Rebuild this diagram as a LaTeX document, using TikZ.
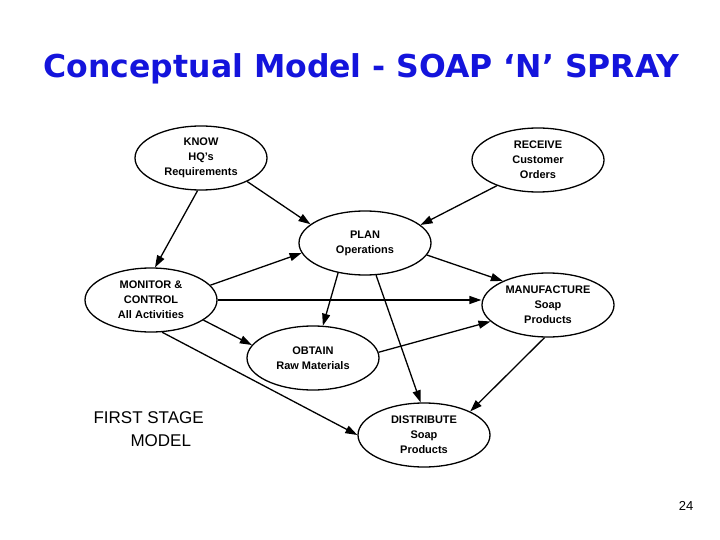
\documentclass[tikz,border=0pt]{standalone}
\usepackage{fontspec}
\setmainfont{Liberation Sans}
\newfontfamily\titlefont{DejaVu Sans}
\usetikzlibrary{shapes.geometric,arrows.meta}

\definecolor{titleblue}{RGB}{20,20,220}

\begin{document}
\begin{tikzpicture}[x=1pt, y=-1pt,
    act/.style={draw=black, ellipse, line width=1.3pt, minimum width=132pt,
      minimum height=64pt, inner sep=0pt, align=center,
      font=\fontsize{11}{15}\selectfont\bfseries},
    flow/.style={line width=1.3pt, -{Triangle[length=12pt,width=8pt]}}]
      \useasboundingbox (0,0) rectangle (720,540);

      \draw (361.5, 78) node [anchor=base, text=titleblue,
        font=\titlefont\fontsize{31.5}{36}\selectfont\bfseries] (title)
        {Conceptual Model - SOAP ‘N’ SPRAY};

      \draw (201, 158) node [act] (know) {KNOW\\HQ's\\Requirements};
      \draw (538, 160) node [act] (receive) {RECEIVE\\Customer\\Orders};
      \draw (365, 243) node [act] (plan) {PLAN\\Operations};
      \draw (151, 300) node [act] (monitor) {MONITOR \&\\CONTROL\\All Activities};
      \draw (548, 305) node [act] (manufacture) {MANUFACTURE\\Soap\\Products};
      \draw (313, 358) node [act] (obtain) {OBTAIN\\Raw Materials};
      \draw (424, 435) node [act] (distribute) {DISTRIBUTE\\Soap\\Products};

      \draw [flow] (know.264) -- (monitor.83);
      \draw [flow] (know.333) -- (plan.161);
      \draw [flow] (receive.212) -- (plan.18);
      \draw [flow] (monitor.14) -- (plan.189);
      \draw [flow] (monitor.east) -- (monitor.east -| manufacture.west);
      \draw [flow] (monitor.339) -- (obtain.168);
      \draw [flow] (monitor.289) -- (distribute.180);
      \draw [flow] (plan.228) -- (obtain.73);
      \draw [flow] (plan.289) -- (distribute.96);
      \draw [flow] (plan.349) -- (manufacture.152);
      \draw [flow] (obtain.5) -- (manufacture.196);
      \draw [flow] (manufacture.264) -- (distribute.27);

      % Stage label and page number
      \draw (90, 446) node [anchor=base west, align=left,
        font=\fontsize{17}{23}\selectfont] (stage)
        {FIRST STAGE\\\hspace*{37pt}MODEL};
      \draw (686, 510) node [anchor=base, font=\fontsize{13}{15}\selectfont] (page) {24};
\end{tikzpicture}
\end{document}
